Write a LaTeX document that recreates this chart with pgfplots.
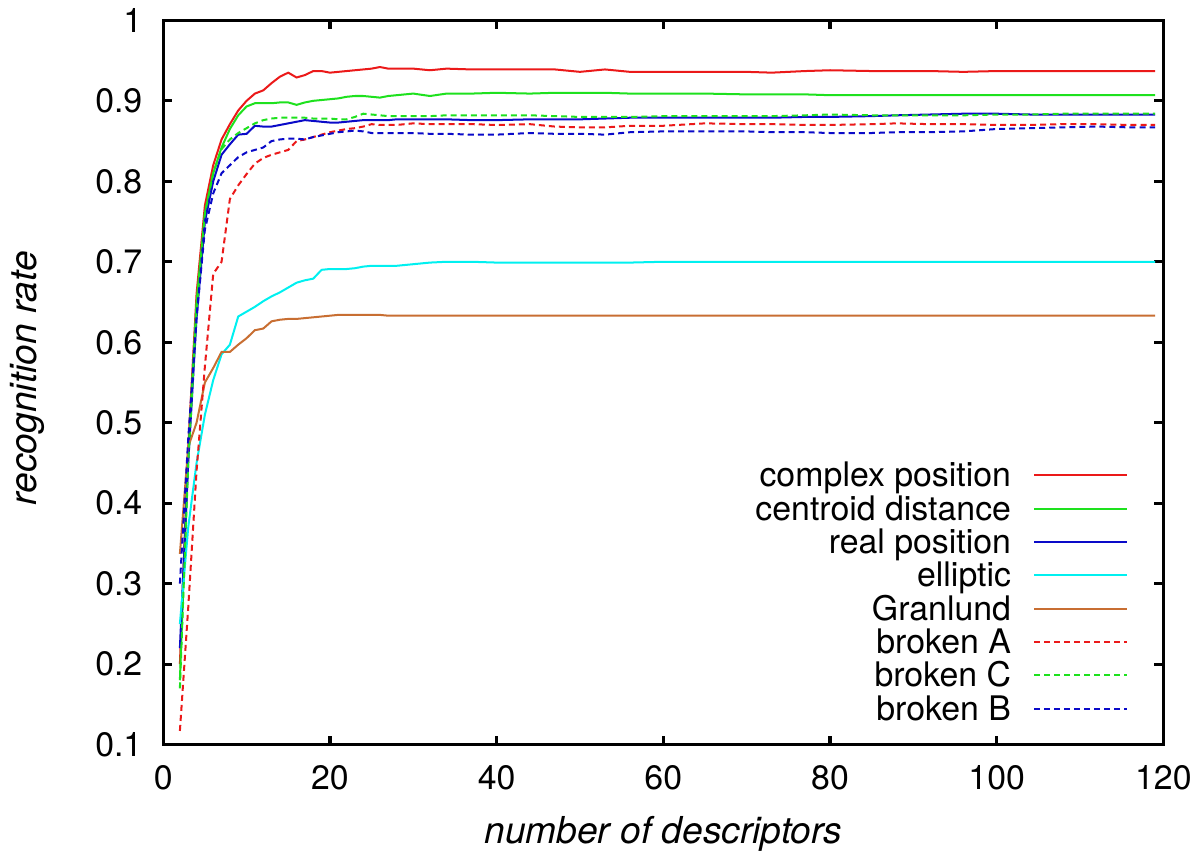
\documentclass[border=0pt]{standalone}
\usepackage{fontspec}
\setmainfont{TeX Gyre Heros}
\usepackage{pgfplots}
\pgfplotsset{compat=1.18}
\usepackage{pgfplotstable}

\definecolor{gpred}{RGB}{235,25,25}
\definecolor{gpgreen}{RGB}{30,225,30}
\definecolor{gpblue}{RGB}{10,10,200}
\definecolor{gpcyan}{RGB}{0,240,240}
\definecolor{gporange}{RGB}{200,110,50}

% cp = complex position, cd = centroid distance, rp = real position,
% el = elliptic, gr = Granlund, bA/bC/bB = broken A/C/B
\pgfplotstableread{
x   cp    cd    rp    el    gr    bA    bC    bB
2   0.200 0.180 0.220 0.250 0.337 0.117 0.170 0.300
3   0.470 0.460 0.450 0.370 0.470 0.270 0.450 0.480
4   0.660 0.650 0.630 0.450 0.500 0.440 0.640 0.630
5   0.770 0.760 0.750 0.510 0.550 0.570 0.760 0.740
6   0.820 0.810 0.800 0.553 0.568 0.685 0.810 0.785
7   0.852 0.842 0.833 0.585 0.588 0.700 0.840 0.810
8   0.871 0.865 0.846 0.597 0.588 0.778 0.852 0.820
9   0.888 0.882 0.858 0.632 0.597 0.795 0.860 0.830
10  0.900 0.893 0.859 0.638 0.605 0.809 0.866 0.836
11  0.909 0.897 0.869 0.644 0.615 0.822 0.872 0.839
12  0.913 0.897 0.868 0.651 0.617 0.829 0.876 0.842
13  0.922 0.897 0.868 0.657 0.626 0.833 0.878 0.850
14  0.930 0.898 0.870 0.662 0.628 0.836 0.879 0.852
15  0.935 0.898 0.872 0.668 0.629 0.839 0.879 0.853
16  0.929 0.895 0.874 0.674 0.629 0.850 0.879 0.853
17  0.932 0.898 0.876 0.677 0.630 0.852 0.879 0.852
18  0.937 0.900 0.875 0.679 0.631 0.855 0.878 0.855
19  0.937 0.901 0.874 0.690 0.632 0.858 0.878 0.857
20  0.935 0.902 0.873 0.691 0.633 0.861 0.878 0.859
21  0.936 0.903 0.873 0.691 0.634 0.863 0.877 0.861
22  0.937 0.905 0.874 0.691 0.634 0.865 0.877 0.862
23  0.938 0.906 0.875 0.692 0.634 0.866 0.880 0.863
24  0.939 0.906 0.876 0.694 0.634 0.868 0.884 0.862
25  0.940 0.905 0.876 0.695 0.634 0.871 0.883 0.860
26  0.942 0.904 0.876 0.695 0.634 0.870 0.882 0.860
27  0.940 0.906 0.876 0.695 0.633 0.870 0.881 0.860
28  0.940 0.907 0.877 0.695 0.633 0.870 0.881 0.860
29  0.940 0.908 0.877 0.696 0.633 0.871 0.881 0.860
30  0.940 0.909 0.877 0.697 0.633 0.872 0.881 0.860
32  0.938 0.906 0.877 0.699 0.633 0.871 0.881 0.859
34  0.940 0.909 0.877 0.700 0.633 0.871 0.882 0.859
37  0.939 0.909 0.876 0.700 0.633 0.871 0.882 0.858
40  0.939 0.910 0.876 0.699 0.633 0.870 0.882 0.858
44  0.939 0.909 0.877 0.699 0.633 0.871 0.882 0.860
47  0.939 0.910 0.877 0.699 0.633 0.868 0.881 0.859
50  0.936 0.910 0.877 0.699 0.633 0.867 0.880 0.859
53  0.939 0.910 0.878 0.699 0.633 0.867 0.880 0.858
56  0.936 0.909 0.879 0.699 0.633 0.869 0.880 0.861
60  0.936 0.909 0.879 0.700 0.633 0.869 0.881 0.862
65  0.936 0.909 0.879 0.700 0.633 0.872 0.881 0.862
70  0.936 0.908 0.879 0.700 0.633 0.871 0.881 0.862
73  0.935 0.908 0.879 0.700 0.633 0.871 0.881 0.861
77  0.937 0.908 0.880 0.700 0.633 0.870 0.882 0.861
80  0.938 0.907 0.880 0.700 0.633 0.870 0.883 0.860
85  0.937 0.907 0.881 0.700 0.633 0.871 0.882 0.860
88  0.937 0.907 0.882 0.700 0.633 0.872 0.882 0.861
92  0.937 0.907 0.883 0.700 0.633 0.871 0.882 0.861
96  0.936 0.907 0.884 0.700 0.633 0.871 0.882 0.862
100 0.937 0.907 0.884 0.700 0.633 0.870 0.883 0.865
104 0.937 0.907 0.883 0.700 0.633 0.870 0.883 0.866
108 0.937 0.907 0.883 0.700 0.633 0.871 0.884 0.867
112 0.937 0.907 0.883 0.700 0.633 0.871 0.884 0.868
116 0.937 0.907 0.883 0.700 0.633 0.870 0.884 0.867
119 0.937 0.907 0.883 0.700 0.633 0.870 0.884 0.867
}\rates

\begin{document}
\begin{tikzpicture}
\begin{axis}[
    scale only axis,
    width=398.8pt, height=288.8pt,
    xmin=0, xmax=120, ymin=0.1, ymax=1,
    xtick={0,20,40,60,80,100,120},
    ytick={0.1,0.2,0.3,0.4,0.5,0.6,0.7,0.8,0.9,1},
    yticklabels={0.1,0.2,0.3,0.4,0.5,0.6,0.7,0.8,0.9,1},
    tick align=inside,
    major tick length=3.6pt,
    axis line style={line width=1.3pt},
    every tick/.style={black, line width=1.3pt},
    /pgf/number format/assume math mode=true,
    tick label style={font=\fontsize{13.5}{16}\selectfont},
    xticklabel style={yshift=-4.8pt},
    yticklabel style={xshift=-4.8pt},
    xlabel={number of descriptors},
    ylabel={recognition rate},
    label style={font=\fontsize{14.8}{17}\selectfont\itshape},
    xlabel style={at={(rel axis cs:0.5,-0.1226)}, anchor=center, inner sep=0pt},
    ylabel style={at={(rel axis cs:-0.136,0.506)}, anchor=center, inner sep=4pt},
    legend plot pos=right,
    legend cell align=right,
    legend image code/.code={\draw[#1] (0pt,1.25pt) -- (37.2pt,1.25pt);},
    legend style={draw=none, fill=none, at={(rel axis cs:0.965,0.3906)},
        anchor=north east, inner sep=0pt, outer sep=0pt,
        font=\fontsize{13.5}{16}\selectfont,
        row sep=0pt, column sep=8.8pt,
        nodes={inner sep=0pt, text height=10pt, text depth=3.3pt}},
]
\addplot[gpred, line width=0.8pt] table[x=x, y=cp] {\rates};
\addplot[gpgreen, line width=0.8pt] table[x=x, y=cd] {\rates};
\addplot[gpblue, line width=0.8pt] table[x=x, y=rp] {\rates};
\addplot[gpcyan, line width=0.8pt] table[x=x, y=el] {\rates};
\addplot[gporange, line width=0.8pt] table[x=x, y=gr] {\rates};
\addplot[gpred, line width=0.8pt, dash pattern=on 2.4pt off 1.6pt] table[x=x, y=bA] {\rates};
\addplot[gpgreen, line width=0.8pt, dash pattern=on 2.4pt off 1.6pt] table[x=x, y=bC] {\rates};
\addplot[gpblue, line width=0.8pt, dash pattern=on 2.4pt off 1.6pt] table[x=x, y=bB] {\rates};
\legend{complex position, centroid distance, real position, elliptic,
    Granlund, broken A, broken C, broken B}
\end{axis}
\end{tikzpicture}
\end{document}
